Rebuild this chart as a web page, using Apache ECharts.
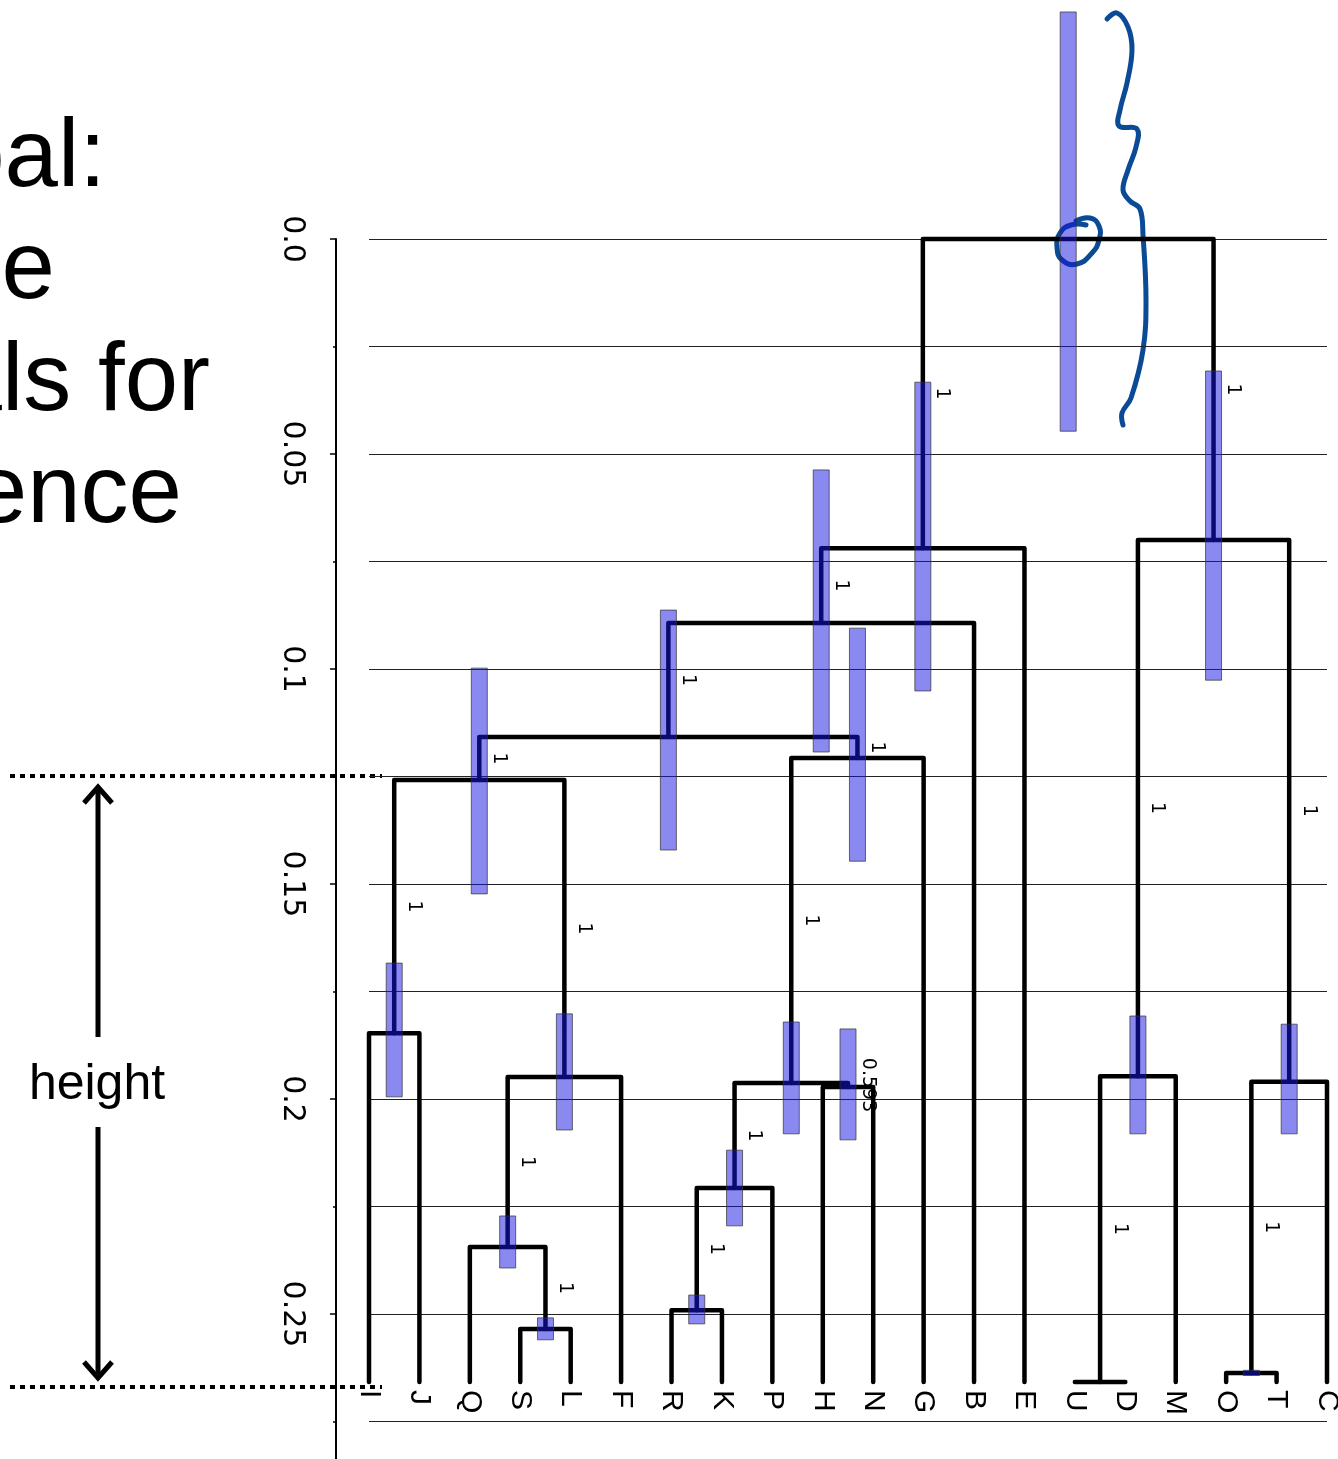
<!DOCTYPE html>
<html>
<head>
<meta charset="utf-8">
<script src="https://cdn.jsdelivr.net/npm/echarts@6/dist/echarts.min.js"></script>
<style>
html,body{margin:0;padding:0;background:#fff;}
#chart{width:1338px;height:1459px;}
</style>
</head>
<body>
<div id="chart"></div>
<script>
// ---- data ----
const leaves = ['I','J','Q','S','L','F','R','K','P','H','N','G','B','E','U','D','M','O','T','C'];
const leafHeight = 0.2658;
// internal nodes: index 20 + k ; children refer to leaf index (0-19) or node index (20+)
const mergeLeft   = [3, 2, 21, 0, 23, 6, 25, 9, 26, 28, 24, 30, 31, 14, 33, 17, 35, 34, 32];
const mergeRight  = [4, 20, 5, 1, 22, 7, 8, 10, 27, 11, 29, 12, 13, 15, 16, 18, 19, 36, 37];
const mergeHeight = [0.2535, 0.2344, 0.1949, 0.1847, 0.1258, 0.2491, 0.2207, 0.1972, 0.1963, 0.1207, 0.1158, 0.0893, 0.0719, 0.2658, 0.1947, 0.2637, 0.1960, 0.0700, 0.0];
const ciLow       = [0.2509, 0.2272, 0.1802, 0.1684, 0.0998, 0.2456, 0.2119, 0.1837, 0.1821, 0.0905, 0.0863, 0.0537, 0.0333, null, 0.1807, 0.2631, 0.1826, 0.0307, -0.0528];
const ciHigh      = [0.2560, 0.2393, 0.2072, 0.1995, 0.1523, 0.2523, 0.2295, 0.2095, 0.2081, 0.1447, 0.1421, 0.1193, 0.1051, null, 0.2081, 0.2643, 0.2081, 0.1026, 0.0447];
const support     = ['1','1','1','1','1','1','1','0.593','1','1','1','1','1','1','1','1','1','1', null];
const tickLabels  = ['0.0','0.05','0.1','0.15','0.2','0.25','0.3'];

// ---- tree layout (in data units) ----
const nLeaf = leaves.length;
const nodeX = leaves.map((_, i) => i);
const nodeH = leaves.map(() => leafHeight);
const parentH = [];
mergeLeft.forEach((l, k) => {
  const r = mergeRight[k];
  nodeX[nLeaf + k] = (nodeX[l] + nodeX[r]) / 2;
  nodeH[nLeaf + k] = mergeHeight[k];
  parentH[l] = mergeHeight[k];
  parentH[r] = mergeHeight[k];
});

const branchData = mergeLeft.map((l, k) => {
  const r = mergeRight[k];
  return [nodeX[l], nodeH[l], nodeX[r], nodeH[r], mergeHeight[k]];
});
const ciData = [];
mergeLeft.forEach((l, k) => {
  if (ciLow[k] !== null) ciData.push([nodeX[nLeaf + k], ciLow[k], ciHigh[k]]);
});
const supportData = [];
mergeLeft.forEach((l, k) => {
  if (support[k] !== null) {
    const id = nLeaf + k;
    supportData.push([nodeX[id], (parentH[id] + mergeHeight[k]) / 2, support[k]]);
  }
});
const leafData = leaves.map((name, i) => [i, leafHeight, name]);

const chart = echarts.init(document.getElementById('chart'), null, {renderer: 'canvas'});

const blue = '#0B4A94';
const big = 96;
const bigOff = 0.29 * big;
const option = {
  animation: false,
  backgroundColor: '#fff',
  grid: {left: 369, top: 239, width: 958, height: 1290, containLabel: false, outerBoundsMode: 'none'},
  xAxis: {type: 'value', min: 0, max: 19, show: false},
  yAxis: {
    type: 'value', inverse: true, min: 0, max: 0.3, interval: 0.05,
    position: 'left', offset: 33,
    axisLine: {show: true, onZero: false, lineStyle: {color: '#000', width: 2}},
    axisTick: {show: true, length: 6, lineStyle: {color: '#000', width: 1.5}},
    minorTick: {show: true, splitNumber: 2, length: 3, lineStyle: {color: '#000', width: 1.5}},
    splitLine: {show: true, lineStyle: {color: '#222', width: 1}},
    minorSplitLine: {show: true, lineStyle: {color: '#222', width: 1}},
    axisLabel: {
      rotate: -90, margin: 29, fontSize: 30, fontFamily: 'DejaVu Sans', color: '#000',
      formatter: v => tickLabels[Math.round(v / 0.05)]
    }
  },
  series: [
    {
      type: 'custom', clip: false, z: 2,
      data: branchData,
      renderItem: (params, api) => {
        const x1 = api.value(0), h1 = api.value(1), x2 = api.value(2), h2 = api.value(3), h = api.value(4);
        const pts = [api.coord([x1, h1]), api.coord([x1, h]), api.coord([x2, h]), api.coord([x2, h2])];
        return {type: 'polyline', shape: {points: pts},
          style: {stroke: '#000', lineWidth: 4.5, fill: null, lineJoin: 'round', lineCap: 'round'}};
      }
    },
    {
      type: 'custom', clip: false, z: 3,
      data: ciData,
      renderItem: (params, api) => {
        const a = api.coord([api.value(0), api.value(1)]);
        const b = api.coord([api.value(0), api.value(2)]);
        return {type: 'rect', shape: {x: a[0] - 8, y: a[1], width: 16, height: b[1] - a[1]},
          style: {fill: 'rgba(20,20,225,0.5)', stroke: 'rgba(50,50,50,0.7)', lineWidth: 1}};
      }
    },
    {
      type: 'custom', clip: false, z: 4,
      data: supportData,
      renderItem: (params, api) => {
        const p = api.coord([api.value(0), api.value(1)]);
        return {type: 'text', x: p[0] + 10, y: p[1], rotation: -Math.PI / 2,
          style: {text: String(api.value(2)), fontSize: 19, fontFamily: 'DejaVu Sans', fill: '#000',
            align: 'center', verticalAlign: 'bottom'}};
      }
    },
    {
      type: 'custom', clip: false, z: 4,
      data: leafData,
      renderItem: (params, api) => {
        const p = api.coord([api.value(0), api.value(1)]);
        return {type: 'text', x: p[0], y: p[1] + 8, rotation: -Math.PI / 2,
          style: {text: String(api.value(2)), fontSize: 30, fontFamily: 'Liberation Sans', fill: '#000',
            align: 'left', verticalAlign: 'middle'}};
      }
    }
  ],
  graphic: [
    {type: 'text', x: 106, y: 187 - bigOff, style: {text: 'Goal:', fontSize: big, fontFamily: 'Liberation Sans', fill: '#000', align: 'right', verticalAlign: 'middle'}},
    {type: 'text', x: 55, y: 299 - bigOff, style: {text: 'e', fontSize: big, fontFamily: 'Liberation Sans', fill: '#000', align: 'right', verticalAlign: 'middle'}},
    {type: 'text', x: 210, y: 411 - bigOff, style: {text: 'intervals for', fontSize: big, fontFamily: 'Liberation Sans', fill: '#000', align: 'right', verticalAlign: 'middle'}},
    {type: 'text', x: 182, y: 523 - bigOff, style: {text: 'confidence', fontSize: big, fontFamily: 'Liberation Sans', fill: '#000', align: 'right', verticalAlign: 'middle'}},
    {type: 'text', x: 97, y: 1085, style: {text: 'height', fontSize: 50, fontFamily: 'Liberation Sans', fill: '#000', align: 'center', verticalAlign: 'middle'}},
    {type: 'line', shape: {x1: 10, y1: 776, x2: 382, y2: 776}, style: {stroke: '#000', lineWidth: 4, lineDash: [5, 5]}},
    {type: 'line', shape: {x1: 10, y1: 1387, x2: 382, y2: 1387}, style: {stroke: '#000', lineWidth: 4, lineDash: [5, 5]}},
    {type: 'line', shape: {x1: 98, y1: 788, x2: 98, y2: 1037}, style: {stroke: '#000', lineWidth: 5}},
    {type: 'line', shape: {x1: 98, y1: 1127, x2: 98, y2: 1377}, style: {stroke: '#000', lineWidth: 5}},
    {type: 'polyline', shape: {points: [[84, 803], [98, 787], [112, 803]]}, style: {stroke: '#000', lineWidth: 5, fill: null}},
    {type: 'polyline', shape: {points: [[84, 1362], [98, 1378], [112, 1362]]}, style: {stroke: '#000', lineWidth: 5, fill: null}},
    {type: 'polyline', shape: {smooth: 0.4, points: [[1107, 19], [1117, 13], [1128, 27], [1132, 50], [1127, 83], [1120, 110], [1119, 126], [1137, 129], [1136, 147], [1128, 170], [1123, 190], [1130, 201], [1140, 209], [1143, 235], [1146, 300], [1143, 350], [1131, 398], [1122, 413], [1123, 425]]},
      style: {stroke: blue, lineWidth: 5, fill: null, lineCap: 'round', lineJoin: 'round'}},
    {type: 'polyline', shape: {smooth: 0.5, points: [[1076, 221], [1090, 218], [1099, 226], [1099, 240], [1092, 253], [1077, 264], [1062, 260], [1057, 247], [1060, 233], [1071, 225], [1086, 225]]},
      style: {stroke: blue, lineWidth: 5, fill: null, lineCap: 'round', lineJoin: 'round'}}
  ]
};
chart.setOption(option);
</script>
</body>
</html>
